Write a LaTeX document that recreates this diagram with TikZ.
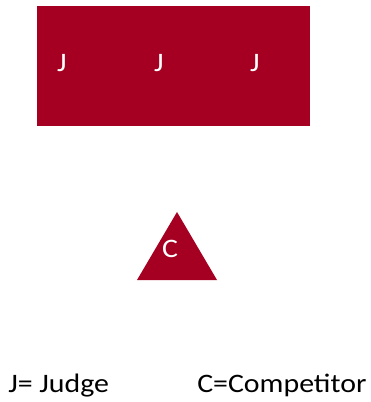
\documentclass[tikz,border=0pt]{standalone}
\usepackage{fontspec}
\setsansfont{Carlito}
\usepackage{tikz}
\usetikzlibrary{positioning,calc}
\definecolor{jured}{RGB}{165,0,33}
\newcommand{\widetext}[1]{\scalebox{1.12}[1]{#1}}
\tikzset{
  panel/.style={
    fill=jured, draw=none, inner sep=0pt, anchor=north west,
    minimum width=204.75pt, minimum height=90pt
  },
  seat/.style={text=white, inner sep=0pt, anchor=base, font=\fontsize{20pt}{22pt}\sffamily},
  legend/.style={inner sep=0pt, anchor=base west, font=\fontsize{20pt}{22pt}\sffamily},
  every picture/.append style={line join=round}
}
\begin{document}
\begin{tikzpicture}[x=0.75pt, y=-0.75pt]
  \useasboundingbox (0,0) rectangle (370,402);
  % judges table
  \node[panel] (table) at (37,6) {};
  \foreach \i/\xj in {1/62, 2/159, 3/255}
    \node[seat] (j\i) at (\xj,72) {\widetext{J}};
  % competitor
  \coordinate (tip) at (177,212);
  \coordinate (bl) at (137,280);
  \coordinate (br) at (217,280);
  \fill[jured] (tip) -- (br) -- (bl) -- cycle;
  \node[seat] (comp) at (170,257) {\widetext{C}};
  % legend
  \node[legend] (keyj) at (8,392) {\widetext{J= Judge}};
  \node[legend] (keyc) at (197,392) {\widetext{C=Competitor}};
\end{tikzpicture}
\end{document}
